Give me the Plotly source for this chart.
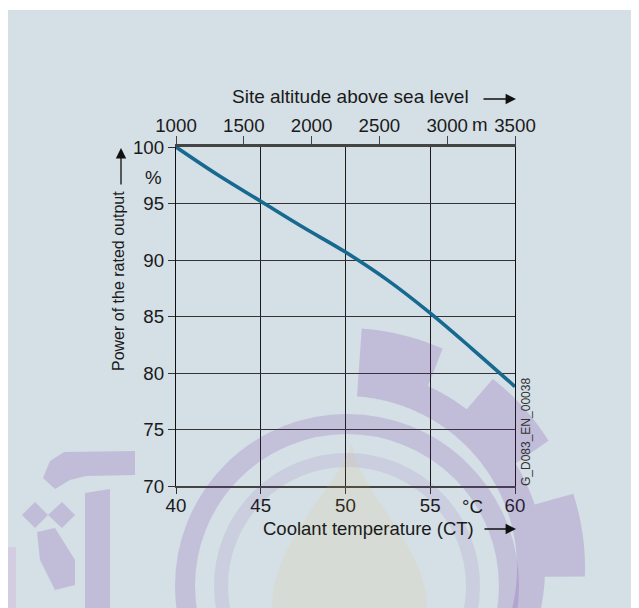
import plotly.graph_objects as go
import math

# ---------------- data ----------------
coolant_temp = [40, 42.5, 45, 47.5, 50, 52.5, 55, 57.5, 60]
power_pct = [100, 97.5, 95.2, 92.9, 90.7, 88.2, 85.3, 82.1, 78.8]
temp_ticks = [40, 45, 50, 55, 60]
power_ticks = [70, 75, 80, 85, 90, 95, 100]
altitude_ticks = [1000, 1500, 2000, 2500, 3000, 3500]

FONT = "Liberation Sans, Arial, sans-serif"
FS = 18.7
BG = "#d4dfe6"
LINE = "#17698f"

# geometry (page pixels; the page body adds an 8px offset)
OFF = 8
W_FIG, H_FIG = 639, 608
L, T, PW, PH = 176, 147, 339, 339


def P(px, py):
    return (px - L) / PW, (T + PH - py) / PH


def path_from(points, close=True):
    s = ""
    for i, (px, py) in enumerate(points):
        x, y = P(px, py)
        s += ("M" if i == 0 else "L") + f"{x:.4f},{y:.4f} "
    return s + ("Z" if close else "")


fig = go.Figure()
fig.add_trace(go.Scatter(x=coolant_temp, y=power_pct, mode="lines",
                         line=dict(color=LINE, width=3.6, shape="spline", smoothing=1.0),
                         hoverinfo="skip", showlegend=False))
fig.add_trace(go.Scatter(x=[altitude_ticks[0], altitude_ticks[-1]], y=[None, None],
                         xaxis="x2", mode="markers", showlegend=False, hoverinfo="skip"))

shapes = []
# background panel
x0, y1 = P(8, 10)
x1, y0 = P(660, 630)
shapes.append(dict(type="rect", xref="paper", yref="paper", x0=x0, x1=x1, y0=y0, y1=y1,
                   fillcolor=BG, line=dict(width=0), layer="below"))

# ---- watermark (approximate) ----
PURPLE = "rgba(110,40,160,0.18)"
gx, gy = 345, 568
pts = []
body_r, inner_r, tooth_r = 200, 172, 240
angs = [a / 2 for a in range(-40, 173)]
teeth = [8, 42, 76]
for a in angs:
    r = body_r
    for t in teeth:
        if abs(a - t) <= 10:
            r = tooth_r
    pts.append((gx + r * math.cos(math.radians(a)), gy - r * math.sin(math.radians(a))))
for a in reversed(angs):
    pts.append((gx + inner_r * math.cos(math.radians(a)), gy - inner_r * math.sin(math.radians(a))))
shapes.append(dict(type="path", xref="paper", yref="paper", path=path_from(pts),
                   fillcolor=PURPLE, line=dict(width=0), layer="above"))
# rings
cx, cy = 347, 586
for r, w, col in [(162, 20, "rgba(110,40,160,0.17)"), (126, 14, "rgba(110,40,160,0.09)")]:
    a0, b0 = P(cx - r, cy + r)
    a1, b1 = P(cx + r, cy - r)
    shapes.append(dict(type="circle", xref="paper", yref="paper", x0=a0, x1=a1, y0=b0, y1=b1,
                       line=dict(color=col, width=w), layer="above"))
# flame
flame = []
for i in range(0, 21):
    t = i / 20
    flame.append((352 - 80 * math.sin(t * math.pi / 2) ** 1.3, 443 + 165 * t))
for i in range(20, -1, -1):
    t = i / 20
    flame.append((352 + 75 * math.sin(t * math.pi / 2) ** 1.6, 443 + 165 * t))
shapes.append(dict(type="path", xref="paper", yref="paper", path=path_from(flame),
                   fillcolor="rgba(240,185,40,0.09)", line=dict(width=0), layer="above"))
# letters on the left
madda = [(43, 478), (50, 461), (64, 452), (135, 451), (135, 475), (86, 476), (70, 480), (55, 489)]
bar = [(85, 493), (110, 489), (110, 608), (85, 608)]
dots = [(22, 515), (35, 502), (48, 515), (62, 502), (75, 515), (62, 528), (48, 515), (35, 528)]
stem = [(37, 532), (55, 528), (75, 560), (75, 585), (55, 590), (40, 560)]
for poly in (madda, bar, dots, stem):
    shapes.append(dict(type="path", xref="paper", yref="paper", path=path_from(poly),
                       fillcolor=PURPLE, line=dict(width=0), layer="above"))
pa, pb = P(8, 547)
pc, pd = P(16, 620)
shapes.append(dict(type="rect", xref="paper", yref="paper", x0=pa, x1=pc, y0=pd, y1=pb,
                   fillcolor="rgba(200,80,190,0.12)", line=dict(width=0), layer="above"))

# ---- annotations ----
ann = []


def txt(text, px, py, size=FS, angle=0, color="#1a1a1a", xanchor="center"):
    x, y = P(px, py)
    ann.append(dict(text=text, x=x, y=y, xref="paper", yref="paper", showarrow=False,
                    font=dict(family=FONT, size=size, color=color), textangle=angle,
                    xanchor=xanchor, yanchor="middle"))


def arrow(hx, hy, tx, ty):
    x, y = P(hx, hy)
    ann.append(dict(text="", x=x, y=y, xref="paper", yref="paper", showarrow=True,
                    ax=tx - hx, ay=ty - hy, axref="pixel", ayref="pixel",
                    arrowhead=2, arrowsize=1.6, arrowwidth=1.3, arrowcolor="#111", standoff=0))


txt("Site altitude above sea level", 350, 96, size=19)
arrow(516, 99, 482, 99)
txt("Coolant temperature (CT)", 368, 528, size=18.5)
arrow(516, 529, 483, 529)
txt("Power of the rated output", 118, 281, size=16, angle=-90)
arrow(121, 148, 121, 186)
txt("%", 153, 177)
txt("m", 480, 125)
txt("°C", 472, 506)
txt("G_D083_EN_00038", 526, 432, size=12, angle=-90, color="#333")

fig.update_layout(
    width=W_FIG, height=H_FIG,
    margin=dict(l=L - OFF, r=W_FIG - (L - OFF) - PW, t=T - OFF, b=H_FIG - (T - OFF) - PH, pad=0),
    paper_bgcolor="white", plot_bgcolor="white",
    font=dict(family=FONT, size=FS, color="#1a1a1a"),
    shapes=shapes, annotations=ann, showlegend=False,
    xaxis=dict(range=[40, 60], tickvals=temp_ticks, ticks="outside", ticklen=6, tickcolor="#333",
               ticklabelstandoff=-4,
               showgrid=True, gridcolor="#1a1a1a", gridwidth=1, zeroline=False,
               showline=True, linecolor="#444", linewidth=1.5, mirror=False,
               tickfont=dict(size=FS)),
    xaxis2=dict(range=[1000, 3500], tickvals=altitude_ticks, overlaying="x", side="top",
                ticks="outside", ticklen=8, tickcolor="#444", ticklabelstandoff=-3,
                showgrid=False, zeroline=False,
                showline=True, linecolor="#444", linewidth=2.5, tickfont=dict(size=FS)),
    yaxis=dict(range=[70, 100], tickvals=power_ticks, ticks="outside", ticklen=7, tickcolor="#333",
               showgrid=True, gridcolor="#333", gridwidth=1, zeroline=False,
               showline=True, linecolor="#111", linewidth=1.2, mirror=True,
               tickfont=dict(size=FS)),
)

fig.write_html("out.html")
